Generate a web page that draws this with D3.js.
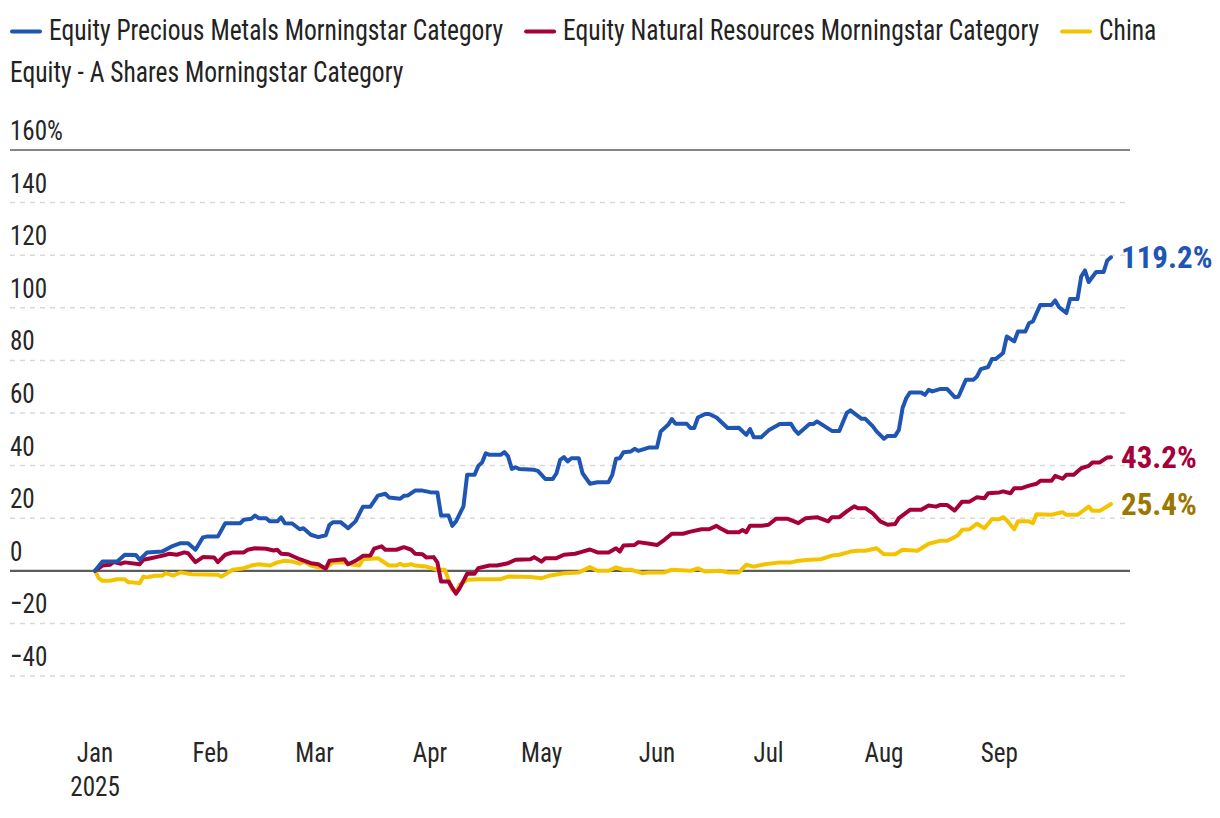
<!DOCTYPE html>
<html><head><meta charset="utf-8">
<script src="https://cdn.jsdelivr.net/npm/d3@7"></script>
<style>
body{margin:0;background:#fff;}
svg text{font-family:"Liberation Sans Narrow","Arial Narrow","Roboto Condensed","DejaVu Sans Condensed",sans-serif;}
</style></head><body><svg id="chart" width="1220" height="818"></svg>
<script>
const seriesNames = ["Equity Precious Metals Morningstar Category","Equity Natural Resources Morningstar Category","China Equity - A Shares Morningstar Category"];
const seriesColors = ["#1f56b3","#a5003a","#f4c300"];
const labelColors = ["#1f56b3","#a5003a","#9a7800"];
const yTicks = [-40,-20,0,20,40,60,80,100,120,140,160];
const monthTicks = ["2025-01-01","2025-02-01","2025-03-01","2025-04-01","2025-05-01","2025-06-01","2025-07-01","2025-08-01","2025-09-01"];

const preciousMetals = [["2025-01-01",0],["2025-01-03",3.5],["2025-01-07",3.5],["2025-01-09",6.1],["2025-01-12",6.0],["2025-01-13",4.2],["2025-01-15",7.0],["2025-01-19",7.3],["2025-01-22",9.5],["2025-01-24",10.5],["2025-01-26",10.5],["2025-01-28",8.0],["2025-01-30",12.7],["2025-01-31",13.0],["2025-02-03",13.0],["2025-02-05",18.1],["2025-02-09",18.1],["2025-02-10",19.4],["2025-02-12",19.8],["2025-02-13",21.0],["2025-02-14",20.0],["2025-02-16",20.0],["2025-02-17",18.8],["2025-02-19",18.8],["2025-02-20",20.3],["2025-02-21",18.1],["2025-02-23",18.0],["2025-02-25",15.8],["2025-02-26",16.2],["2025-02-28",13.7],["2025-03-02",12.8],["2025-03-04",13.5],["2025-03-05",17.5],["2025-03-06",18.5],["2025-03-08",18.5],["2025-03-10",16.2],["2025-03-12",18.8],["2025-03-14",24.4],["2025-03-16",24.4],["2025-03-18",28.6],["2025-03-20",29.3],["2025-03-21",27.9],["2025-03-24",27.4],["2025-03-25",28.5],["2025-03-26",28.6],["2025-03-28",30.5],["2025-03-30",30.5],["2025-04-01",29.9],["2025-04-03",29.8],["2025-04-04",21.0],["2025-04-06",21.0],["2025-04-07",17.1],["2025-04-08",18.8],["2025-04-10",24.5],["2025-04-11",36.5],["2025-04-13",36.5],["2025-04-14",39.9],["2025-04-15",41.2],["2025-04-16",44.7],["2025-04-17",44.1],["2025-04-20",44.1],["2025-04-21",45.1],["2025-04-22",43.5],["2025-04-23",38.7],["2025-04-24",39.4],["2025-04-25",38.7],["2025-04-29",38.4],["2025-04-30",38.0],["2025-05-01",36.5],["2025-05-02",34.9],["2025-05-04",34.9],["2025-05-05",37.1],["2025-05-06",42.2],["2025-05-07",43.2],["2025-05-08",41.6],["2025-05-09",42.8],["2025-05-11",42.8],["2025-05-12",37.1],["2025-05-14",33.1],["2025-05-16",33.7],["2025-05-19",33.7],["2025-05-20",36.5],["2025-05-21",42.6],["2025-05-22",42.8],["2025-05-23",45.1],["2025-05-25",45.4],["2025-05-26",46.4],["2025-05-27",45.6],["2025-05-30",46.9],["2025-06-01",46.9],["2025-06-02",53.0],["2025-06-04",55.5],["2025-06-05",57.7],["2025-06-06",55.9],["2025-06-09",55.9],["2025-06-10",54.3],["2025-06-11",54.3],["2025-06-12",58.3],["2025-06-14",59.6],["2025-06-15",59.6],["2025-06-17",58.3],["2025-06-20",54.3],["2025-06-23",54.4],["2025-06-25",51.7],["2025-06-26",53.9],["2025-06-27",50.8],["2025-06-29",50.8],["2025-07-01",53.4],["2025-07-04",55.8],["2025-07-07",55.9],["2025-07-08",53.6],["2025-07-09",52.1],["2025-07-12",55.8],["2025-07-13",55.8],["2025-07-14",56.8],["2025-07-18",53.2],["2025-07-20",53.2],["2025-07-22",60.0],["2025-07-23",61.0],["2025-07-26",57.8],["2025-07-27",57.8],["2025-07-29",54.9],["2025-07-30",53.0],["2025-08-01",50.2],["2025-08-02",51.3],["2025-08-04",51.3],["2025-08-05",53.6],["2025-08-06",61.9],["2025-08-07",65.7],["2025-08-08",67.8],["2025-08-11",67.8],["2025-08-12",66.9],["2025-08-13",68.8],["2025-08-14",68.2],["2025-08-16",69.1],["2025-08-18",69.1],["2025-08-20",66.0],["2025-08-21",66.2],["2025-08-23",72.6],["2025-08-25",72.6],["2025-08-26",73.9],["2025-08-27",76.7],["2025-08-29",77.5],["2025-08-30",80.5],["2025-08-31",80.5],["2025-09-02",82.8],["2025-09-03",89.1],["2025-09-05",87.2],["2025-09-06",91.0],["2025-09-08",91.0],["2025-09-09",94.2],["2025-09-10",94.8],["2025-09-12",101.1],["2025-09-15",101.1],["2025-09-16",102.8],["2025-09-17",100.3],["2025-09-19",98.0],["2025-09-20",103.3],["2025-09-22",103.3],["2025-09-23",111.9],["2025-09-24",114.2],["2025-09-25",109.8],["2025-09-27",113.6],["2025-09-29",113.6],["2025-09-30",118.0],["2025-10-01",119.2]];

const naturalResources = [["2025-01-01",0],["2025-01-03",2.0],["2025-01-05",2.3],["2025-01-06",3.3],["2025-01-08",2.7],["2025-01-09",3.2],["2025-01-13",2.5],["2025-01-14",4.2],["2025-01-16",4.8],["2025-01-18",5.4],["2025-01-19",5.7],["2025-01-21",6.5],["2025-01-23",6.1],["2025-01-25",7.0],["2025-01-26",6.7],["2025-01-28",3.3],["2025-01-30",5.2],["2025-02-02",5.1],["2025-02-03",3.3],["2025-02-05",6.1],["2025-02-07",7.0],["2025-02-10",7.0],["2025-02-11",8.0],["2025-02-13",8.6],["2025-02-16",8.4],["2025-02-18",7.7],["2025-02-19",8.0],["2025-02-20",6.5],["2025-02-22",6.3],["2025-02-25",4.4],["2025-02-28",2.9],["2025-03-02",2.5],["2025-03-04",0.8],["2025-03-05",3.8],["2025-03-09",4.4],["2025-03-10",2.5],["2025-03-12",3.8],["2025-03-14",5.7],["2025-03-16",5.8],["2025-03-17",8.4],["2025-03-19",9.3],["2025-03-20",8.0],["2025-03-23",8.0],["2025-03-25",9.0],["2025-03-27",8.0],["2025-03-28",6.5],["2025-03-30",6.3],["2025-03-31",5.1],["2025-04-02",5.2],["2025-04-03",3.2],["2025-04-04",-4.1],["2025-04-06",-4.1],["2025-04-08",-8.7],["2025-04-09",-6.6],["2025-04-11",-1.1],["2025-04-13",-1.1],["2025-04-14",1.0],["2025-04-17",2.0],["2025-04-19",2.0],["2025-04-22",2.9],["2025-04-24",4.2],["2025-04-28",4.4],["2025-04-29",5.2],["2025-05-01",3.5],["2025-05-02",4.8],["2025-05-05",4.8],["2025-05-07",6.1],["2025-05-10",6.5],["2025-05-12",7.3],["2025-05-14",8.1],["2025-05-16",7.0],["2025-05-19",7.0],["2025-05-21",8.6],["2025-05-22",7.3],["2025-05-23",9.6],["2025-05-26",9.8],["2025-05-27",10.9],["2025-05-30",10.3],["2025-06-01",9.8],["2025-06-03",11.8],["2025-06-05",14.1],["2025-06-08",14.1],["2025-06-10",14.9],["2025-06-13",15.8],["2025-06-15",15.8],["2025-06-17",17.1],["2025-06-18",16.2],["2025-06-20",14.7],["2025-06-23",14.7],["2025-06-24",15.5],["2025-06-25",14.7],["2025-06-26",17.1],["2025-06-29",17.1],["2025-07-01",17.5],["2025-07-03",19.8],["2025-07-06",19.8],["2025-07-09",18.1],["2025-07-11",20.0],["2025-07-14",20.4],["2025-07-17",18.8],["2025-07-18",20.4],["2025-07-20",20.4],["2025-07-22",22.6],["2025-07-24",24.5],["2025-07-25",23.8],["2025-07-27",23.8],["2025-07-29",21.8],["2025-07-31",18.8],["2025-08-02",17.5],["2025-08-04",17.8],["2025-08-05",20.0],["2025-08-08",23.2],["2025-08-11",23.2],["2025-08-13",24.8],["2025-08-15",24.4],["2025-08-16",25.0],["2025-08-18",25.0],["2025-08-20",22.9],["2025-08-22",26.3],["2025-08-24",26.3],["2025-08-26",28.0],["2025-08-28",27.6],["2025-08-29",29.5],["2025-09-01",29.8],["2025-09-02",30.2],["2025-09-04",29.5],["2025-09-05",31.4],["2025-09-07",31.4],["2025-09-09",32.4],["2025-09-11",33.1],["2025-09-12",34.2],["2025-09-15",34.2],["2025-09-16",36.1],["2025-09-18",35.0],["2025-09-19",36.5],["2025-09-21",36.5],["2025-09-23",39.0],["2025-09-25",39.9],["2025-09-26",41.2],["2025-09-28",41.2],["2025-09-30",43.1],["2025-10-01",43.2]];

const chinaAShares = [["2025-01-01",0],["2025-01-02",-2.8],["2025-01-03",-3.8],["2025-01-05",-3.8],["2025-01-07",-3.2],["2025-01-09",-3.2],["2025-01-10",-4.4],["2025-01-11",-4.4],["2025-01-13",-4.7],["2025-01-14",-2.2],["2025-01-15",-2.5],["2025-01-17",-1.9],["2025-01-19",-1.9],["2025-01-20",-0.9],["2025-01-22",-1.8],["2025-01-24",-0.6],["2025-01-27",-1.3],["2025-02-03",-1.5],["2025-02-04",-2.2],["2025-02-07",0.4],["2025-02-10",1.0],["2025-02-12",2.0],["2025-02-14",2.5],["2025-02-17",2.0],["2025-02-19",3.2],["2025-02-21",3.8],["2025-02-23",3.5],["2025-02-25",2.7],["2025-02-26",3.5],["2025-02-28",2.0],["2025-03-02",1.3],["2025-03-04",1.0],["2025-03-06",3.2],["2025-03-09",3.2],["2025-03-10",2.7],["2025-03-13",2.0],["2025-03-14",4.4],["2025-03-18",4.8],["2025-03-21",2.0],["2025-03-23",2.0],["2025-03-24",2.7],["2025-03-25",2.0],["2025-03-27",2.5],["2025-03-28",2.0],["2025-03-31",1.6],["2025-04-03",0.4],["2025-04-05",0.4],["2025-04-07",-7.2],["2025-04-08",-8.2],["2025-04-09",-5.3],["2025-04-11",-3.4],["2025-04-14",-3.2],["2025-04-20",-3.2],["2025-04-22",-2.2],["2025-04-28",-2.4],["2025-05-01",-2.8],["2025-05-03",-1.9],["2025-05-07",-0.9],["2025-05-11",-0.6],["2025-05-14",1.4],["2025-05-16",0.0],["2025-05-19",0.0],["2025-05-21",1.3],["2025-05-23",0.4],["2025-05-25",0.4],["2025-05-28",-0.9],["2025-05-30",-0.6],["2025-06-03",-0.6],["2025-06-05",0.4],["2025-06-10",0.0],["2025-06-12",0.9],["2025-06-14",-0.3],["2025-06-18",0.0],["2025-06-20",-0.6],["2025-06-23",-0.6],["2025-06-25",2.3],["2025-06-27",1.6],["2025-06-30",2.5],["2025-07-04",3.2],["2025-07-07",3.2],["2025-07-09",3.8],["2025-07-12",4.2],["2025-07-15",4.4],["2025-07-18",5.8],["2025-07-20",6.1],["2025-07-23",7.3],["2025-07-25",7.6],["2025-07-27",7.6],["2025-07-30",8.6],["2025-08-01",6.3],["2025-08-04",6.3],["2025-08-06",8.0],["2025-08-10",7.6],["2025-08-13",10.3],["2025-08-16",11.4],["2025-08-18",11.4],["2025-08-20",12.8],["2025-08-21",13.7],["2025-08-22",15.6],["2025-08-24",15.8],["2025-08-26",17.9],["2025-08-28",16.2],["2025-08-30",19.6],["2025-09-01",19.6],["2025-09-02",20.4],["2025-09-03",19.2],["2025-09-05",15.8],["2025-09-06",18.8],["2025-09-09",18.8],["2025-09-10",18.1],["2025-09-11",21.5],["2025-09-15",21.3],["2025-09-18",22.3],["2025-09-19",21.3],["2025-09-22",21.3],["2025-09-23",22.3],["2025-09-25",24.4],["2025-09-26",22.8],["2025-09-28",22.8],["2025-10-01",25.4]];

const parse = d3.timeParse("%Y-%m-%d");
const seriesData = [preciousMetals, naturalResources, chinaAShares].map(s => s.map(([d, v]) => ({date: parse(d), value: v})));

const svg = d3.select("#chart");
const x = d3.scaleTime().domain([parse("2025-01-01"), parse("2025-10-01")]).range([95, 1111]);
const y = d3.scaleLinear().domain([-40, 160]).range([676, 150]);
const gridLeft = 10, gridRight = 1130;
const SX = 0.88; // horizontal condensing of text
const axisFs = 28.5, textCol = "#262626";

function ctext(g, px, py, str, fs, anchor) {
  return g.append("text").attr("transform", `translate(${px},${py}) scale(${SX},1)`)
    .attr("font-size", fs).attr("fill", textCol).attr("text-anchor", anchor || "start").text(str);
}

// gridlines
const grid = svg.append("g");
grid.selectAll("line").data(yTicks).join("line")
  .attr("x1", gridLeft).attr("x2", gridRight)
  .attr("y1", d => y(d)).attr("y2", d => y(d))
  .attr("stroke", d => (d === 0 || d === 160) ? "#5c5c5c" : "#d9d9d9")
  .attr("stroke-width", d => d === 0 ? 2.2 : 1.5)
  .attr("stroke-dasharray", d => (d === 0 || d === 160) ? null : "5,5");
yTicks.forEach(d => {
  const lbl = d === 160 ? d + "%" : (d < 0 ? "\u2212" + Math.abs(d) : String(d));
  ctext(grid, gridLeft, y(d) - 10, lbl, axisFs);
});

// x labels
const xl = svg.append("g");
monthTicks.forEach((m, i) => {
  const d = parse(m);
  ctext(xl, x(d), 762, d3.timeFormat("%b")(d), axisFs, "middle");
  if (i === 0) ctext(xl, x(d), 796, d3.timeFormat("%Y")(d), axisFs, "middle");
});

// lines
const line = d3.line().x(d => x(d.date)).y(d => y(d.value));
[2, 1, 0].forEach(i => {
  svg.append("path").datum(seriesData[i]).attr("d", line)
    .attr("fill", "none").attr("stroke", seriesColors[i]).attr("stroke-width", 4)
    .attr("stroke-linejoin", "round").attr("stroke-linecap", "round");
});

// end labels
seriesData.forEach((s, i) => {
  const last = s[s.length - 1];
  svg.append("text").attr("x", x(last.date) + 10).attr("y", y(last.value))
    .attr("dy", "0.36em").attr("font-size", 31).attr("font-weight", "bold")
    .attr("fill", labelColors[i]).text(d3.format(".1f")(last.value) + "%");
});

// legend with word wrap
const lg = svg.append("g");
const fs = 29, lineH = 42, maxX = 1212;
let cx = 10, cy = 40;
function measure(str) {
  const t = lg.append("text").attr("font-size", fs).text(str);
  const w = t.node().getComputedTextLength() * SX; t.remove(); return w;
}
const spaceW = measure("a b") - measure("ab");
seriesNames.forEach((name, i) => {
  if (cx + 40 > maxX) { cx = 10; cy += lineH; }
  lg.append("line").attr("x1", cx + 2).attr("x2", cx + 30).attr("y1", cy - 8.5).attr("y2", cy - 8.5)
    .attr("stroke", seriesColors[i]).attr("stroke-width", 4).attr("stroke-linecap", "round");
  cx += 39;
  name.split(" ").forEach(w => {
    const ww = measure(w);
    if (cx + ww > maxX) { cx = 10; cy += lineH; }
    ctext(lg, cx, cy, w, fs).attr("fill", "#222");
    cx += ww + spaceW;
  });
  cx += 21 - spaceW;
});
</script></body></html>
